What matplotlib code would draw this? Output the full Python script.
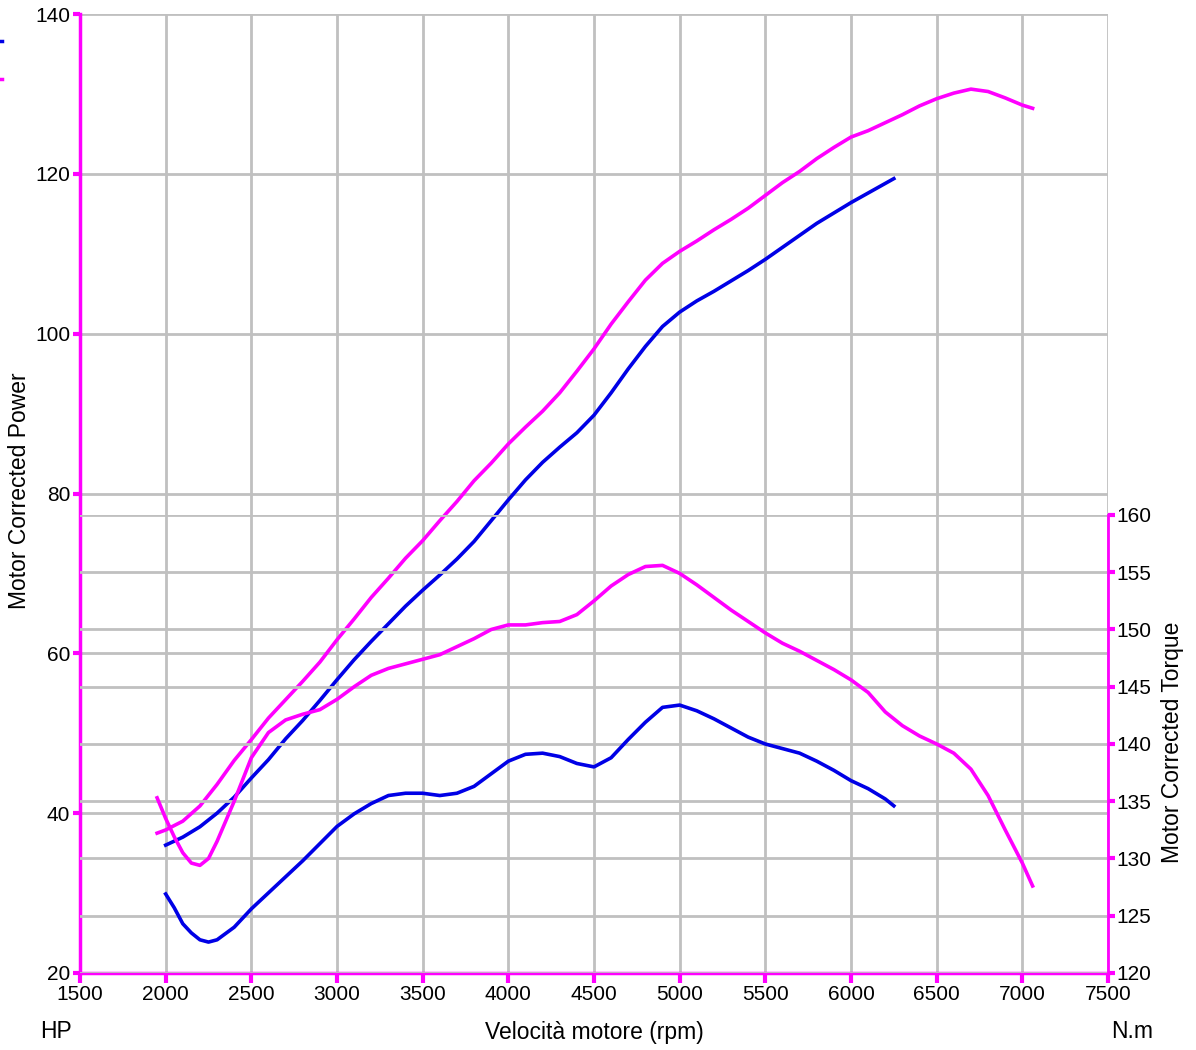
import matplotlib
matplotlib.use("Agg")
import matplotlib.pyplot as plt
from matplotlib.lines import Line2D

plt.rcParams['font.family'] = ['Liberation Sans', 'DejaVu Sans']

# Power curves (left axis, HP)
rpm_pow_blue = [2000, 2100, 2200, 2300, 2400, 2500, 2600, 2700, 2800, 2900, 3000, 3100, 3200, 3300,
                3400, 3500, 3600, 3700, 3800, 3900, 4000, 4100, 4200, 4300, 4400, 4500, 4600, 4700,
                4800, 4900, 5000, 5100, 5200, 5300, 5400, 5500, 5600, 5700, 5800, 5900, 6000, 6100, 6200, 6250]
pow_blue = [36.0, 37.0, 38.3, 40.0, 42.0, 44.4, 46.7, 49.3, 51.6, 54.1, 56.7, 59.2, 61.5, 63.7,
            65.9, 67.9, 69.8, 71.8, 74.0, 76.6, 79.2, 81.7, 83.9, 85.8, 87.6, 89.8, 92.6, 95.6,
            98.4, 100.9, 102.7, 104.1, 105.3, 106.6, 107.9, 109.3, 110.8, 112.3, 113.8, 115.1, 116.4, 117.6, 118.8, 119.4]

rpm_pow_mag = [1950, 2000, 2100, 2200, 2300, 2400, 2500, 2600, 2700, 2800, 2900, 3000, 3100, 3200,
               3300, 3400, 3500, 3600, 3700, 3800, 3900, 4000, 4100, 4200, 4300, 4400, 4500, 4600,
               4700, 4800, 4900, 5000, 5100, 5200, 5300, 5400, 5500, 5600, 5700, 5800, 5900, 6000,
               6100, 6200, 6300, 6400, 6500, 6600, 6700, 6800, 6900, 7000, 7060]
pow_mag = [37.5, 37.9, 39.0, 40.9, 43.6, 46.6, 49.2, 51.9, 54.2, 56.5, 58.9, 61.7, 64.3, 67.0,
           69.4, 71.9, 74.1, 76.6, 79.0, 81.6, 83.8, 86.2, 88.3, 90.3, 92.6, 95.3, 98.1, 101.2,
           104.0, 106.7, 108.8, 110.3, 111.6, 113.0, 114.3, 115.7, 117.3, 118.9, 120.3, 121.9, 123.3, 124.6,
           125.4, 126.4, 127.4, 128.5, 129.4, 130.1, 130.6, 130.3, 129.5, 128.6, 128.2]

# Torque curves (right axis, N.m)
rpm_trq_blue = [2000, 2050, 2100, 2150, 2200, 2250, 2300, 2400, 2500, 2600, 2700, 2800, 2900, 3000,
                3100, 3200, 3300, 3400, 3500, 3600, 3700, 3800, 3900, 4000, 4100, 4200, 4300, 4400,
                4500, 4600, 4700, 4800, 4900, 5000, 5100, 5200, 5300, 5400, 5500, 5600, 5700, 5800,
                5900, 6000, 6100, 6200, 6250]
trq_blue = [126.9, 125.7, 124.3, 123.5, 122.9, 122.7, 122.9, 124.0, 125.6, 127.0, 128.4, 129.8, 131.3, 132.8,
            133.9, 134.8, 135.5, 135.7, 135.7, 135.5, 135.7, 136.3, 137.4, 138.5, 139.1, 139.2, 138.9, 138.3,
            138.0, 138.8, 140.4, 141.9, 143.2, 143.4, 142.9, 142.2, 141.4, 140.6, 140.0, 139.6, 139.2, 138.5,
            137.7, 136.8, 136.1, 135.2, 134.6]

rpm_trq_mag = [1950, 2000, 2050, 2100, 2150, 2200, 2250, 2300, 2400, 2500, 2600, 2700, 2800, 2900,
               3000, 3100, 3200, 3300, 3400, 3500, 3600, 3700, 3800, 3900, 4000, 4100, 4200, 4300,
               4400, 4500, 4600, 4700, 4800, 4900, 5000, 5100, 5200, 5300, 5400, 5500, 5600, 5700,
               5800, 5900, 6000, 6100, 6200, 6300, 6400, 6500, 6600, 6700, 6800, 6900, 7000, 7060]
trq_mag = [135.3, 133.5, 131.9, 130.5, 129.6, 129.4, 130.0, 131.5, 135.0, 138.8, 141.0, 142.1, 142.6, 143.0,
           143.9, 145.0, 146.0, 146.6, 147.0, 147.4, 147.8, 148.5, 149.2, 150.0, 150.4, 150.4, 150.6, 150.7,
           151.3, 152.5, 153.8, 154.8, 155.5, 155.6, 154.9, 153.9, 152.8, 151.7, 150.7, 149.7, 148.8, 148.1,
           147.3, 146.5, 145.6, 144.5, 142.8, 141.6, 140.7, 140.0, 139.2, 137.8, 135.5, 132.5, 129.6, 127.6]

x_ticks = [1500, 2000, 2500, 3000, 3500, 4000, 4500, 5000, 5500, 6000, 6500, 7000, 7500]
pow_ticks = [20, 40, 60, 80, 100, 120, 140]
trq_ticks = [120, 125, 130, 135, 140, 145, 150, 155, 160]

BLUE = '#0000e6'
MAG = '#ff00ff'
GRID = '#c0c0c0'
FS = 15
LFS = 16.5

fig = plt.figure(figsize=(11.96, 10.5), dpi=100)
W, H = 1196, 1050
left, right, top, bottom = 80, 1108, 14, 973
trq_top = 515

ax = fig.add_axes([left / W, (H - bottom) / H, (right - left) / W, (bottom - top) / H])
ax2 = fig.add_axes([left / W, (H - bottom) / H, (right - left) / W, (bottom - trq_top) / H])
ax2.patch.set_visible(False)

ax.set_xlim(1500, 7500)
ax.set_ylim(20, 140)
ax2.set_xlim(1500, 7500)
ax2.set_ylim(120, 160)

ax.set_xticks(x_ticks)
ax.set_yticks(pow_ticks)
ax2.set_yticks(trq_ticks)
ax2.set_xticks([])

ax.grid(True, color=GRID, lw=2, zorder=0)
ax2.yaxis.grid(True, color=GRID, lw=2, zorder=0)
ax.set_axisbelow(True)
ax2.set_axisbelow(True)

for s in ['top', 'right']:
    ax.spines[s].set_visible(False)
for s in ['left', 'bottom']:
    ax.spines[s].set_color(MAG)
    ax.spines[s].set_linewidth(2.5)
for s in ['top', 'left', 'bottom']:
    ax2.spines[s].set_visible(False)
ax2.spines['right'].set_color(MAG)
ax2.spines['right'].set_linewidth(2)

ax.tick_params(axis='both', colors=MAG, labelcolor='black', labelsize=FS, length=5, width=3, direction='out', pad=2)
ax.tick_params(axis='x', length=7)
ax2.yaxis.tick_right()
ax2.tick_params(axis='y', colors=MAG, labelcolor='black', labelsize=FS, length=5, width=3, direction='out', pad=1)

ax.plot(rpm_pow_blue, pow_blue, color=BLUE, lw=2.6, zorder=3)
ax.plot(rpm_pow_mag, pow_mag, color=MAG, lw=2.6, zorder=3)
ax2.plot(rpm_trq_blue, trq_blue, color=BLUE, lw=2.6, zorder=3)
ax2.plot(rpm_trq_mag, trq_mag, color=MAG, lw=2.6, zorder=3)

fig.text(20 / W, 1 - 491 / H, 'Motor Corrected Power', rotation=90, ha='center', va='center', fontsize=LFS)
fig.text(1172 / W, 1 - 742 / H, 'Motor Corrected Torque', rotation=90, ha='center', va='center', fontsize=LFS)
fig.text(594 / W, 1 - 1032 / H, 'Velocità motore (rpm)', ha='center', va='center', fontsize=LFS)
fig.text(56 / W, 1 - 1032 / H, 'HP', ha='center', va='center', fontsize=LFS)
fig.text(1132 / W, 1 - 1032 / H, 'N.m', ha='center', va='center', fontsize=LFS)

# truncated legend marks at the left edge
fig.add_artist(Line2D([0, 2 / W], [1 - 41 / H, 1 - 41 / H], color=BLUE, lw=2.5))
fig.add_artist(Line2D([0, 2 / W], [1 - 79 / H, 1 - 79 / H], color=MAG, lw=2.5))

fig.savefig('out.png', dpi=100)
